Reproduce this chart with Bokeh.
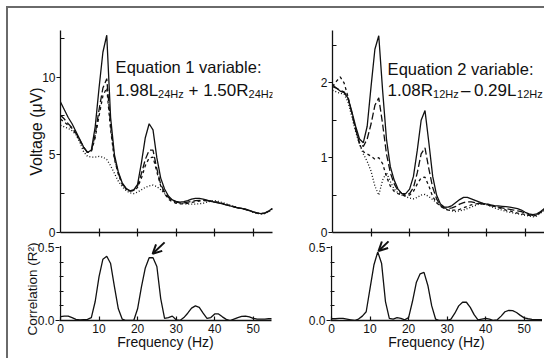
from bokeh.plotting import figure
from bokeh.layouts import row, column
from bokeh.models import Range1d, FixedTicker, Label, Arrow, OpenHead, Title
from bokeh.embed import file_html
from bokeh.resources import INLINE

# ---------------- data ----------------
freq = list(range(0, 56))

# Top-left: Equation 1 panel (voltage, uV)
v1_solid = [8.4, 7.9, 7.4, 7.0, 6.5, 6.0, 5.5, 5.15, 5.3, 6.8, 9.3, 11.6, 12.7, 7.4, 5.0, 3.9,
            3.2, 2.85, 2.68, 2.75, 3.1, 4.5, 6.1, 7.0, 6.6, 4.8, 3.5, 2.8, 2.35, 2.1, 2.0, 1.95,
            1.98, 2.05, 2.15, 2.2, 2.2, 2.15, 2.08, 2.0, 1.95, 1.9, 1.85, 1.78, 1.72, 1.65, 1.58,
            1.55, 1.5, 1.42, 1.33, 1.26, 1.22, 1.25, 1.38, 1.55]
v1_longdash = [7.55, 7.3, 7.0, 6.75, 6.4, 5.95, 5.5, 5.15, 5.25, 6.3, 7.9, 9.3, 9.9, 6.9, 4.8, 3.8,
               3.15, 2.82, 2.68, 2.72, 3.0, 3.8, 4.7, 5.3, 5.3, 4.1, 3.1, 2.6, 2.25, 2.05, 1.95, 1.9,
               1.9, 1.95, 2.0, 2.05, 2.07, 2.07, 2.05, 2.0, 1.96, 1.9, 1.85, 1.78, 1.72, 1.65, 1.58,
               1.54, 1.48, 1.4, 1.32, 1.26, 1.22, 1.25, 1.38, 1.55]
v1_dash = [7.3, 7.1, 6.9, 6.7, 6.35, 5.9, 5.45, 5.15, 5.2, 6.1, 7.5, 8.8, 9.3, 6.6, 4.7, 3.75,
           3.1, 2.8, 2.66, 2.7, 2.9, 3.5, 4.3, 4.8, 4.85, 3.9, 3.0, 2.5, 2.15, 1.98, 1.88, 1.84,
           1.84, 1.88, 1.93, 1.98, 2.02, 2.05, 2.06, 2.04, 2.0, 1.94, 1.88, 1.8, 1.73, 1.66, 1.6,
           1.55, 1.49, 1.41, 1.32, 1.25, 1.21, 1.24, 1.36, 1.53]
v1_dotted = [6.9, 6.8, 6.7, 6.55, 6.3, 5.8, 5.2, 4.9, 4.85, 4.85, 4.9, 4.85, 4.7, 4.3, 3.8, 3.3,
             2.95, 2.7, 2.55, 2.5, 2.6, 2.75, 2.9, 3.0, 3.05, 2.95, 2.75, 2.5, 2.3, 2.1, 1.95, 1.9,
             1.85, 1.83, 1.83, 1.83, 1.85, 1.88, 1.95, 2.02, 2.05, 2.0, 1.93, 1.85, 1.76, 1.68, 1.6,
             1.54, 1.48, 1.4, 1.3, 1.23, 1.19, 1.22, 1.34, 1.5]

# Top-right: Equation 2 panel (voltage, uV)
v2_solid = [1.98, 1.93, 1.89, 1.87, 1.8, 1.62, 1.42, 1.25, 1.2, 1.42, 1.95, 2.45, 2.63, 1.9, 1.25, 0.88,
            0.7, 0.58, 0.52, 0.52, 0.58, 0.75, 1.1, 1.5, 1.63, 1.2, 0.75, 0.5, 0.38, 0.34, 0.34, 0.36,
            0.4, 0.44, 0.47, 0.47, 0.45, 0.43, 0.41, 0.39, 0.38, 0.37, 0.36, 0.355, 0.35, 0.345, 0.34,
            0.33, 0.32, 0.3, 0.27, 0.25, 0.24, 0.25, 0.28, 0.32]
v2_longdash = [1.95, 1.93, 1.9, 1.88, 1.8, 1.6, 1.38, 1.2, 1.15, 1.25, 1.45, 1.7, 1.8, 1.45, 1.05, 0.8,
               0.65, 0.56, 0.52, 0.5, 0.52, 0.6, 0.8, 1.05, 1.13, 0.85, 0.6, 0.45, 0.36, 0.33, 0.32, 0.33,
               0.35, 0.38, 0.4, 0.41, 0.41, 0.4, 0.39, 0.38, 0.37, 0.36, 0.35, 0.34, 0.33, 0.32, 0.31,
               0.3, 0.29, 0.28, 0.26, 0.24, 0.23, 0.24, 0.27, 0.31]
v2_dash = [1.95, 2.02, 2.08, 2.0, 1.82, 1.6, 1.38, 1.18, 1.08, 1.05, 1.02, 0.98, 1.0, 0.92, 0.75, 0.62,
           0.55, 0.52, 0.5, 0.49, 0.5, 0.55, 0.65, 0.73, 0.74, 0.62, 0.48, 0.4, 0.35, 0.32, 0.3, 0.3,
           0.3, 0.31, 0.33, 0.35, 0.37, 0.38, 0.39, 0.39, 0.38, 0.37, 0.35, 0.33, 0.32, 0.3, 0.29,
           0.27, 0.26, 0.25, 0.24, 0.23, 0.22, 0.23, 0.27, 0.31]
v2_dotted = [1.9, 1.88, 1.86, 1.85, 1.75, 1.55, 1.35, 1.18, 1.05, 0.95, 0.82, 0.62, 0.5, 0.7, 0.8, 0.68,
             0.58, 0.53, 0.5, 0.48, 0.46, 0.45, 0.47, 0.5, 0.51, 0.48, 0.44, 0.4, 0.36, 0.32, 0.3, 0.29,
             0.28, 0.29, 0.3, 0.32, 0.34, 0.36, 0.38, 0.38, 0.37, 0.35, 0.33, 0.31, 0.3, 0.28, 0.27,
             0.26, 0.25, 0.24, 0.23, 0.22, 0.21, 0.22, 0.26, 0.3]

# Bottom: correlation (R^2)
r1 = [0.027, 0.03, 0.03, 0.02, 0.008, 0.004, 0.006, 0.008, 0.02, 0.13, 0.3, 0.42, 0.44, 0.39, 0.23, 0.08,
      0.01, 0.0, 0.0, 0.0, 0.08, 0.23, 0.36, 0.43, 0.43, 0.37, 0.15, 0.015, 0.02, 0.03, 0.005, 0.0,
      0.02, 0.05, 0.085, 0.1, 0.09, 0.05, 0.015, 0.02, 0.045, 0.045, 0.025, 0.008, 0.0, 0.01, 0.02,
      0.028, 0.03, 0.025, 0.015, 0.01, 0.01, 0.01, 0.012, 0.012]
r2 = [0.012, 0.012, 0.014, 0.015, 0.01, 0.005, 0.0, 0.01, 0.03, 0.06, 0.22, 0.38, 0.47, 0.39, 0.13, 0.015,
      0.01, 0.02, 0.015, 0.005, 0.02, 0.13, 0.26, 0.32, 0.33, 0.24, 0.1, 0.01, 0.0, 0.0, 0.0, 0.01,
      0.05, 0.1, 0.125, 0.125, 0.09, 0.04, 0.005, 0.01, 0.015, 0.01, 0.0, 0.005, 0.03, 0.06, 0.07,
      0.068, 0.055, 0.035, 0.018, 0.012, 0.008, 0.006, 0.005, 0.005]

x_ticks = [0, 10, 20, 30, 40, 50]
y1_ticks, y1_minor = [0, 5, 10], [2.5, 7.5, 12.5]
y2_ticks, y2_minor = [0, 1, 2], [0.5, 1.5, 2.5]
r_ticks, r_minor = [0, 0.5], [0.1, 0.2, 0.3, 0.4]
r_axis_top = 0.51

# arrows marking the chosen frequency (tail -> head)
arrow1 = (27.0, 0.535, 23.9, 0.457)
arrow2 = (14.8, 0.542, 12.2, 0.476)

FONT = "Liberation Sans"
INK = "#111111"
X0 = -0.26  # tiny left pad so the hand-drawn R^2 axis line is not clipped


def base_fig(w_left, w_right, top, bottom, fh, xr, yr):
    p = figure(frame_width=212, frame_height=fh, x_range=Range1d(*xr), y_range=Range1d(*yr),
               output_backend="svg", toolbar_location=None, tools="")
    p.min_border_left = w_left
    p.min_border_right = w_right
    p.min_border_top = top
    p.min_border_bottom = bottom
    p.outline_line_color = None
    p.grid.visible = False
    p.background_fill_color = "white"
    p.border_fill_color = "white"
    for ax in (p.xaxis[0], p.yaxis[0]):
        ax.axis_line_color = INK
        ax.axis_line_width = 1.3
        ax.major_tick_line_color = INK
        ax.minor_tick_line_color = INK
        ax.major_tick_line_width = 1.2
        ax.minor_tick_line_width = 1.2
        ax.major_label_text_font = FONT
        ax.major_label_text_font_size = "12px"
        ax.major_label_text_color = INK
        ax.axis_label_text_font = FONT
        ax.axis_label_text_font_style = "normal"
        ax.axis_label_text_color = INK
    return p


def style_y(p, ticks, minor, overrides=None):
    ax = p.yaxis[0]
    ax.ticker = FixedTicker(ticks=ticks, minor_ticks=minor)
    ax.major_tick_in = 0
    ax.major_tick_out = 4
    ax.minor_tick_in = 4
    ax.minor_tick_out = 0
    ax.major_label_standoff = 1
    if overrides:
        ax.major_label_overrides = overrides


def top_panel(w_left, w_right, yr, yt, ym, series):
    p = base_fig(w_left, w_right, 22, 8, 202, (0, 55), yr)
    style_y(p, yt, ym)
    ax = p.xaxis[0]
    ax.ticker = FixedTicker(ticks=[], minor_ticks=x_ticks[1:])
    ax.minor_tick_in = 4
    ax.minor_tick_out = 4
    dashes = ["solid", "7 3", "3 3", "1 2"]
    for ys, d in zip(series, dashes):
        p.line(freq, ys, line_color=INK, line_width=1.3, line_dash=d)
    return p


def bottom_panel(w_left, w_right, rs, arrow):
    # frame reaches a little above 0.5 so that the arrows are inside it
    p = base_fig(w_left - 1, w_right, 0, 38, 80, (X0, 55 + X0), (0, 0.548))
    style_y(p, r_ticks, r_minor, {0: "0.0", 0.5: "0.5"})
    p.yaxis[0].axis_line_color = None
    p.segment(x0=[0], y0=[0], x1=[0], y1=[r_axis_top], line_color=INK, line_width=1.3)
    ax = p.xaxis[0]
    ax.ticker = FixedTicker(ticks=x_ticks, minor_ticks=[])
    ax.major_tick_in = 4
    ax.major_tick_out = 0
    ax.major_label_standoff = 3
    ax.axis_label = "Frequency (Hz)"
    ax.axis_label_text_font_size = "14px"
    ax.axis_label_standoff = -2
    p.line(freq, rs, line_color=INK, line_width=1.3)
    x0, y0, x1, y1 = arrow
    p.add_layout(Arrow(x_start=x0, y_start=y0, x_end=x1, y_end=y1, line_width=2, line_color=INK,
                       end=OpenHead(size=9, line_width=2, line_color=INK)))
    return p


def add_eq(p, x, y1, y2, line1, pieces):
    p.add_layout(Label(x=x, y=y1, text=line1, text_font=FONT, text_font_size="16.5px",
                       text_color=INK, text_baseline="alphabetic"))
    off = 0.0
    for txt, sub, w in pieces:
        if sub:
            p.add_layout(Label(x=x, y=y2, x_offset=off, y_offset=-3.5, text=txt, text_font=FONT,
                               text_font_size="11px", text_color=INK, text_baseline="alphabetic"))
        else:
            p.add_layout(Label(x=x, y=y2, x_offset=off, text=txt, text_font=FONT,
                               text_font_size="17px", text_color=INK, text_baseline="alphabetic"))
        off += w


p1 = top_panel(52, 2, (0, 13.0), y1_ticks, y1_minor, [v1_solid, v1_longdash, v1_dash, v1_dotted])
p2 = top_panel(58, 0, (0, 2.7), y2_ticks, y2_minor, [v2_solid, v2_longdash, v2_dash, v2_dotted])
p3 = bottom_panel(52, 2, r1, arrow1)
p4 = bottom_panel(58, 0, r2, arrow2)

# y-axis titles
p1.yaxis[0].axis_label = "Voltage (\u03bcV)"
p1.yaxis[0].axis_label_text_font_size = "16px"
p1.yaxis[0].axis_label_standoff = -6
p3.add_layout(Title(text="Correlation (R\u00b2)", align="left", offset=-15, standoff=-11,
                    text_font=FONT, text_font_size="13.5px", text_font_style="normal",
                    text_color=INK), "left")

# equation texts (widths of the pieces in px, Arial metrics)
NB = "\u00a0"
add_eq(p1, 14.3, 10.63, 9.16, "Equation 1 variable:",
       [("1.98L", False, 42.5), ("24Hz", True, 25.7), (NB + "+" + NB + "1.50R", False, 64.7), ("24Hz", True, 25.7)])
add_eq(p2, 14.3, 2.19, 1.893, "Equation 2 variable:",
       [("1.08R", False, 45.4), ("12Hz", True, 28.0), ("\u2013\u20090.29L", False, 56.0), ("12Hz", True, 25.7)])

root = column(row(p1, p2), row(p3, p4),
              styles={"margin-left": "6px", "margin-top": "6px",
                      "border-top": "2px solid #6a6a6a", "border-left": "2px solid #6a6a6a"})

open("out.html", "w").write(file_html(root, INLINE))
